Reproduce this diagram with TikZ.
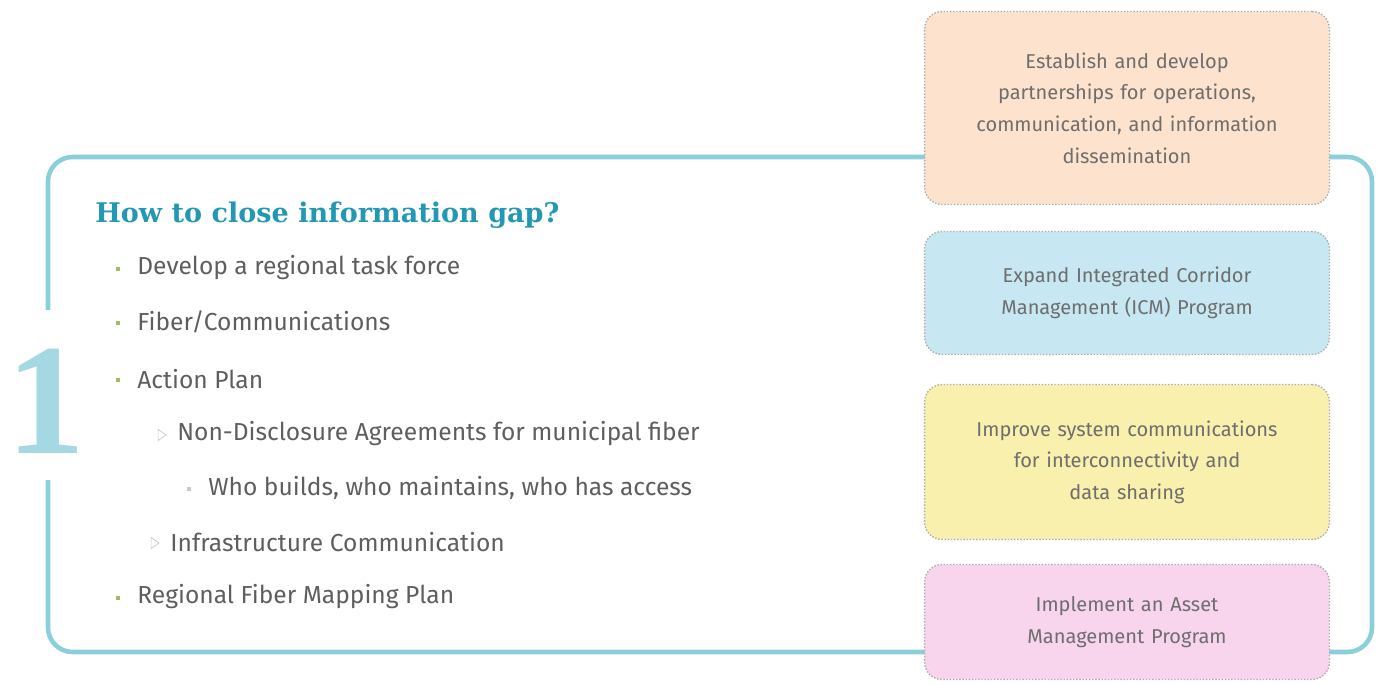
\documentclass[tikz,border=0pt]{standalone}
\usepackage{fontspec}
\setmainfont{Fira Sans}
\newfontfamily\headfont{DejaVu Serif}
\newfontfamily\numfont{Liberation Serif}
\usetikzlibrary{positioning,shapes.geometric}

\definecolor{framecol}{HTML}{8CCFDC}
\definecolor{headcol}{HTML}{2298B4}
\definecolor{itemcol}{HTML}{5E5E5E}
\definecolor{numcol}{HTML}{A4D8E3}
\definecolor{bulcol}{HTML}{9CBF5C}
\definecolor{subcol}{HTML}{C8C8C8}
\definecolor{peach}{HTML}{FDE3CD}
\definecolor{skyblue}{HTML}{C7E8F2}
\definecolor{lemon}{HTML}{F8F0AC}
\definecolor{rose}{HTML}{F8D5EC}

\begin{document}
\begin{tikzpicture}[
    x=0.02cm, y=-0.02cm,
    frame/.style={draw=framecol, line width=2.6pt, rounded corners=14pt},
    goal/.style={rectangle, draw=gray!65, densely dotted, thick, rounded corners=10pt,
        minimum width=8.1cm, text width=7cm, align=center, text=itemcol!90,
        font=\fontsize{11.4}{18}\selectfont},
    item/.style={anchor=west, inner sep=0pt, text=itemcol, font=\fontsize{14}{16}\selectfont},
    bul/.style={rectangle, fill=bulcol, minimum size=2.8pt, inner sep=0pt},
    subbul/.style={isosceles triangle, draw=subcol, isosceles triangle apex angle=70,
        minimum size=4.5pt, inner sep=0pt},
    dotbul/.style={rectangle, fill=subcol, minimum size=2.8pt, inner sep=0pt}
]
\useasboundingbox (0,0) rectangle (1385,685);

% outer frame, open on the left where the numeral sits
\coordinate (F1) at (48,310);
\coordinate (F2) at (48,480);
\draw[frame] (F1) -- (48,157) -- (1372,157) -- (1372,652) -- (48,652) -- (F2);

\node[text=numcol, font=\numfont\bfseries\fontsize{90}{90}\selectfont, inner sep=0pt] (num) at (46,401) {1};

% heading and list
\node[anchor=west, inner sep=0pt, text=headcol, font=\headfont\bfseries\fontsize{15.4}{18}\selectfont]
    (head) at (95,215) {How to close information gap?};

\node[bul] (b1) at (118,269) {};
\node[item] (i1) at (137,268) {Develop a regional task force};
\node[bul] (b2) at (118,323) {};
\node[item] (i2) at (137,322) {Fiber/Communications};
\node[bul] (b3) at (118,380) {};
\node[item] (i3) at (137,379) {Action Plan};
\node[subbul] (b4) at (161,435) {};
\node[item] (i4) at (177,434) {Non-Disclosure Agreements for municipal fiber};
\node[dotbul] (b5) at (189,489) {};
\node[item] (i5) at (208,488) {Who builds, who maintains, who has access};
\node[subbul] (b6) at (154,543) {};
\node[item] (i6) at (170,542) {Infrastructure Communication};
\node[bul] (b7) at (118,598) {};
\node[item] (i7) at (137,597) {Regional Fiber Mapping Plan};

% goal boxes
\node[goal, fill=peach, minimum height=3.86cm] (g1) at (1127,108)
    {Establish and develop\\ partnerships for operations,\\ communication, and information\\ dissemination};
\node[goal, fill=skyblue, minimum height=2.46cm] (g2) at (1127,293)
    {Expand Integrated Corridor\\ Management (ICM) Program};
\node[goal, fill=lemon, minimum height=3.1cm] (g3) at (1127,462)
    {Improve system communications\\ for interconnectivity and\\ data sharing};
\node[goal, fill=rose, minimum height=2.3cm] (g4) at (1127,622)
    {Implement an Asset\\ Management Program};

\end{tikzpicture}
\end{document}
